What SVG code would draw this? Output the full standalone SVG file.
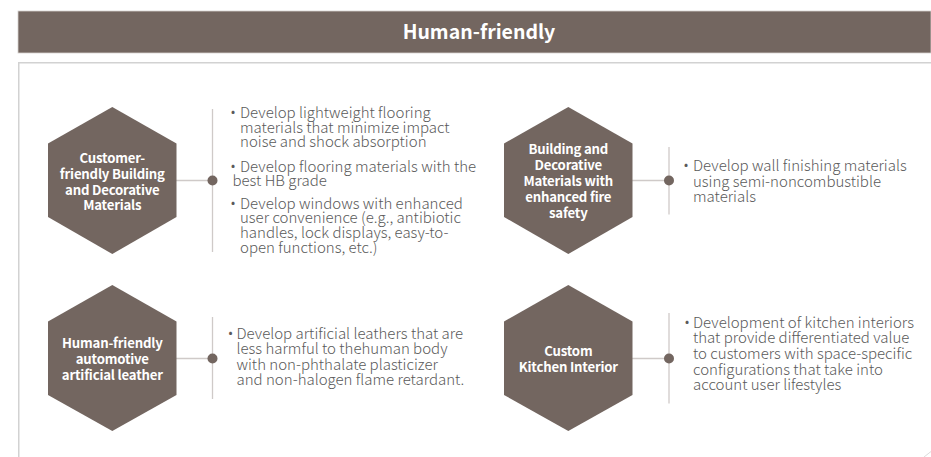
<svg xmlns="http://www.w3.org/2000/svg" width="931" height="457" viewBox="0 0 931 457">
  <style>
    .hex { fill: #736660; }
    .lbl { font-family: "Noto Sans CJK KR", "Noto Sans", sans-serif; font-weight: 700; font-size: 13.2px; fill: #ffffff; text-anchor: middle; letter-spacing: -0.2px; }
    .txt { font-family: "Noto Sans CJK KR", "Noto Sans", sans-serif; font-weight: 300; font-size: 15px; fill: #5a5a5a; letter-spacing: 0px; }
    .bul { font-family: "Noto Sans CJK KR", "Noto Sans", sans-serif; font-size: 12px; fill: #5a5a5a; }
    .conn line { stroke: #cfcac8; stroke-width: 1.3; }
    .conn circle { fill: #736660; }
    .title { font-family: "Noto Sans CJK KR", "Noto Sans", sans-serif; font-weight: 700; font-size: 19.5px; fill: #ffffff; text-anchor: middle; }
  </style>
  <rect x="0" y="0" width="931" height="457" fill="#ffffff"/>

  <g id="header">
    <rect x="18" y="11" width="913" height="42" fill="#736660" stroke="#d6d2d0" stroke-width="0.8"/>
    <text class="title" x="479" y="39">Human-friendly</text>
  </g>

  <g id="frame" fill="none" stroke="#d2d2d2" stroke-width="1.5">
    <polyline points="18.75,457 18.75,62.75 931,62.75"/>
    <line x1="924" y1="457" x2="931" y2="451.5" stroke-width="0.8"/>
  </g>

  <g id="connectors" class="conn">
    <line x1="176" y1="180.5" x2="212.5" y2="180.5"/>
    <line x1="212.5" y1="109" x2="212.5" y2="252"/>
    <circle cx="212.5" cy="180.5" r="5"/>

    <line x1="632" y1="180.5" x2="669" y2="180.5"/>
    <line x1="669" y1="147" x2="669" y2="214.5"/>
    <circle cx="669" cy="180.5" r="5"/>

    <line x1="176" y1="358.5" x2="212.5" y2="358.5"/>
    <line x1="212.5" y1="317" x2="212.5" y2="399"/>
    <circle cx="212.5" cy="358.5" r="5"/>

    <line x1="632" y1="358.5" x2="669" y2="358.5"/>
    <line x1="669" y1="313" x2="669" y2="403.5"/>
    <circle cx="669" cy="358.5" r="5"/>
  </g>

  <g id="node-customer-friendly">
    <polygon class="hex" points="112.3,107 176.5,143.5 176.5,217 112.3,254 48,217 48,143.5"/>
    <text class="lbl" x="112.3"><tspan x="112.3" y="163.3">Customer-</tspan><tspan x="112.3" y="179">friendly Building</tspan><tspan x="112.3" y="194.6">and Decorative</tspan><tspan x="112.3" y="210.2">Materials</tspan></text>
  </g>

  <g id="desc-customer-friendly">
    <text class="bul" x="231" y="116">•</text>
    <text class="txt"><tspan x="240" y="118">Develop lightweight flooring</tspan><tspan x="240" y="132.7">materials that minimize impact</tspan><tspan x="240" y="147.4">noise and shock absorption</tspan></text>
    <text class="bul" x="231" y="169.7">•</text>
    <text class="txt"><tspan x="240" y="171.7">Develop flooring materials with the</tspan><tspan x="232.5" y="186.4">best HB grade</tspan></text>
    <text class="bul" x="231" y="206.6">•</text>
    <text class="txt"><tspan x="240" y="208.6">Develop windows with enhanced</tspan><tspan x="240" y="223.3">user convenience (e.g., antibiotic</tspan><tspan x="240" y="238">handles, lock displays, easy-to-</tspan><tspan x="240" y="252.7">open functions, etc.)</tspan></text>
  </g>

  <g id="node-fire-safety">
    <polygon class="hex" points="568.3,107 632.5,143.5 632.5,217 568.3,254 504,217 504,143.5"/>
    <text class="lbl" x="568.3"><tspan x="568.3" y="154">Building and</tspan><tspan x="568.3" y="170">Decorative</tspan><tspan x="568.3" y="186">Materials with</tspan><tspan x="568.3" y="202">enhanced fire</tspan><tspan x="568.3" y="218">safety</tspan></text>
  </g>

  <g id="desc-fire-safety">
    <text class="bul" x="684" y="169">•</text>
    <text class="txt"><tspan x="693" y="171">Develop wall finishing materials</tspan><tspan x="693" y="186.5">using semi-noncombustible</tspan><tspan x="693" y="202">materials</tspan></text>
  </g>

  <g id="node-automotive-leather">
    <polygon class="hex" points="112.3,285 176.5,321.5 176.5,395 112.3,431 48,395 48,321.5"/>
    <text class="lbl" x="112.3"><tspan x="112.3" y="348.3">Human-friendly</tspan><tspan x="112.3" y="364.2">automotive</tspan><tspan x="112.3" y="380">artificial leather</tspan></text>
  </g>

  <g id="desc-automotive-leather">
    <text class="bul" x="228.5" y="337">•</text>
    <text class="txt"><tspan x="236.5" y="339">Develop artificial leathers that are</tspan><tspan x="236.5" y="354.3">less harmful to thehuman body</tspan><tspan x="236.5" y="369.6">with non-phthalate plasticizer</tspan><tspan x="236.5" y="385">and non-halogen flame retardant.</tspan></text>
  </g>

  <g id="node-kitchen">
    <polygon class="hex" points="568.3,285 632.5,321.5 632.5,395 568.3,431 504,395 504,321.5"/>
    <text class="lbl" x="568.3"><tspan x="568.3" y="356">Custom</tspan><tspan x="568.3" y="372.3">Kitchen Interior</tspan></text>
  </g>

  <g id="desc-kitchen">
    <text class="bul" x="685" y="325.7">•</text>
    <text class="txt"><tspan x="693" y="327.7">Development of kitchen interiors</tspan><tspan x="693" y="343.3">that provide differentiated value</tspan><tspan x="693" y="359">to customers with space-specific</tspan><tspan x="693" y="374.7">configurations that take into</tspan><tspan x="693" y="390.3">account user lifestyles</tspan></text>
  </g>
</svg>
